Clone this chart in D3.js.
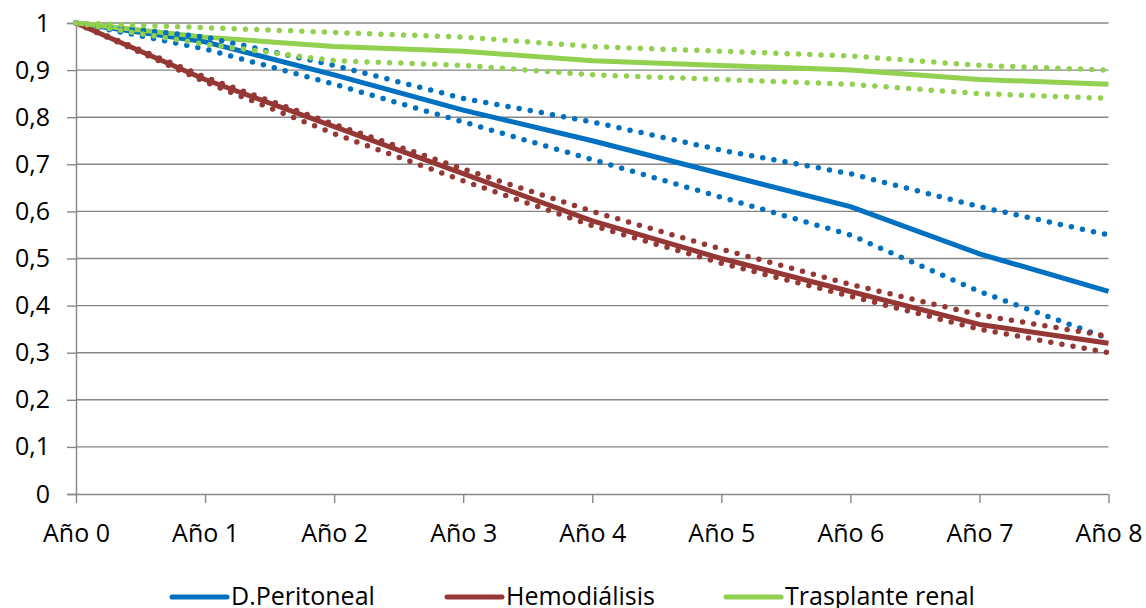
<!DOCTYPE html>
<html lang="es">
  <head>
    <meta charset="UTF-8" />
    <title>Supervivencia</title>
    <script src="https://cdn.jsdelivr.net/npm/d3@7"></script>
    <style>
      body { margin: 0; background: #fff; }
      svg text { font-family: "Open Sans", sans-serif; font-size: 25px; fill: #000; }
    </style>
  </head>
  <body>
    <div id="chart"></div>
    <script>
      // categorias del eje x
      const years = ["Año 0", "Año 1", "Año 2", "Año 3", "Año 4", "Año 5", "Año 6", "Año 7", "Año 8"];
      const yTicks = [0, 0.1, 0.2, 0.3, 0.4, 0.5, 0.6, 0.7, 0.8, 0.9, 1];

      // valores
      const peritoneal = [1, 0.96, 0.89, 0.815, 0.75, 0.68, 0.61, 0.51, 0.43];
      const peritonealHi = [1, 0.97, 0.91, 0.84, 0.79, 0.73, 0.68, 0.61, 0.55];
      const peritonealLo = [1, 0.945, 0.87, 0.79, 0.71, 0.63, 0.55, 0.43, 0.33];

      const hemo = [1, 0.88, 0.78, 0.68, 0.58, 0.50, 0.43, 0.36, 0.32];
      const hemoHi = [1, 0.885, 0.785, 0.69, 0.60, 0.52, 0.445, 0.38, 0.335];
      const hemoLo = [1, 0.875, 0.765, 0.665, 0.57, 0.49, 0.42, 0.35, 0.30];

      const trasplante = [1, 0.97, 0.95, 0.94, 0.92, 0.91, 0.90, 0.88, 0.87];
      const trasplanteHi = [1, 0.99, 0.98, 0.97, 0.95, 0.94, 0.93, 0.91, 0.90];
      const trasplanteLo = [1, 0.955, 0.92, 0.91, 0.89, 0.88, 0.87, 0.85, 0.84];

      const names = ["D.Peritoneal", "Hemodiálisis", "Trasplante renal"];
      const colors = ["#0070C0", "#953735", "#92D050"];

      const width = 1146, height = 608;
      const svg = d3.select("#chart").append("svg").attr("width", width).attr("height", height);

      const x = d3.scalePoint().domain(years).range([76, 1108.5]);
      const y = d3.scaleLinear().domain([0, 1]).range([494, 23]);

      // lineas de cuadricula
      svg.append("g")
        .selectAll("line")
        .data(yTicks.slice(1))
        .join("line")
        .attr("x1", 76).attr("x2", 1108.5)
        .attr("y1", d => y(d)).attr("y2", d => y(d))
        .attr("stroke", "#868686").attr("stroke-width", 1.4);

      const fmt = d => d === 0 || d === 1 ? String(d) : d3.format(".1f")(d).replace(".", ",");

      const yAxis = svg.append("g")
        .attr("transform", "translate(76,0)")
        .call(d3.axisLeft(y).tickValues(yTicks).tickSize(9).tickPadding(17).tickFormat(fmt));
      const xAxis = svg.append("g")
        .attr("transform", "translate(0,494)")
        .call(d3.axisBottom(x).tickSize(9).tickPadding(21));

      [yAxis, xAxis].forEach(g => {
        g.selectAll("path, line").attr("stroke", "#868686").attr("stroke-width", 1.4);
        g.selectAll("text").attr("fill", "#000").style("font-size", "25px")
          .style("font-family", "'Open Sans', sans-serif");
      });
      xAxis.select(".domain").attr("d", "M76,0.5H1108.5");

      const line = d3.line().x((d, i) => x(years[i])).y(d => y(d));

      const solids = [peritoneal, hemo, trasplante];
      const bands = [[peritonealHi, 0], [peritonealLo, 0], [hemoHi, 1], [hemoLo, 1], [trasplanteHi, 2], [trasplanteLo, 2]];

      solids.forEach((s, k) => {
        svg.append("path").datum(s)
          .attr("d", line)
          .attr("fill", "none")
          .attr("stroke", colors[k])
          .attr("stroke-width", 5)
          .attr("stroke-linejoin", "round");
      });

      bands.forEach(([s, k]) => {
        svg.append("path").datum(s)
          .attr("d", line)
          .attr("fill", "none")
          .attr("stroke", colors[k])
          .attr("stroke-width", 5.5)
          .attr("stroke-linecap", "round")
          .attr("stroke-dasharray", "0 11.3");
      });

      // leyenda
      const legendX = [172, 447, 726];
      const legend = svg.append("g")
        .selectAll("g")
        .data(names)
        .join("g")
        .attr("transform", (d, i) => `translate(${legendX[i]},597)`);
      legend.append("line")
        .attr("x1", 0).attr("x2", 55)
        .attr("stroke", (d, i) => colors[i])
        .attr("stroke-width", 5)
        .attr("stroke-linecap", "round");
      legend.append("text")
        .attr("x", 59).attr("y", 8)
        .text(d => d);
    </script>
  </body>
</html>
